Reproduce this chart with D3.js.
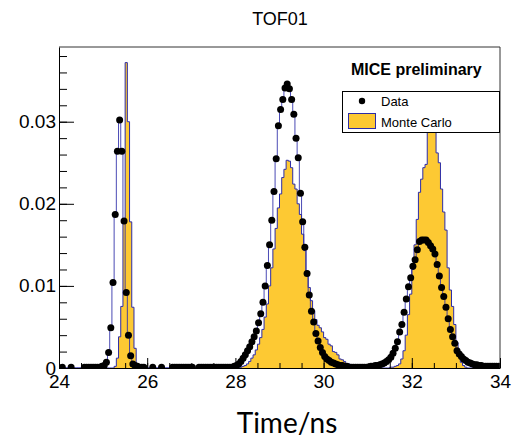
<!DOCTYPE html>
<html>
<head>
<meta charset="utf-8">
<script src="https://cdn.jsdelivr.net/npm/d3@7"></script>
<style>
  html, body { margin: 0; padding: 0; background: #fff; }
  svg { display: block; }
</style>
</head>
<body>
<svg id="chart" width="514" height="441"></svg>
<script>
// Histogram binning: 200 bins of 0.05 ns from 24 ns to 34 ns
const binStart = 24;
const binWidth = 0.05;

// Normalised data entries per bin (null = empty bin, no marker drawn)
const dataValues = [
  null,0.0001,null,null,null,0.0001,null,null,null,null,
  null,0.0001,0.0001,0.0001,0.0001,0.0001,0.0001,0.0001,0.0001,0.0002,
  0.0003,0.0007,0.0019,0.0049,0.0104,0.0187,0.0264,0.0302,0.0264,0.0179,
  0.0092,0.0040,0.0015,0.0005,0.0003,0.0002,0.0001,0.0001,0.0001,null,
  null,null,0.0001,null,null,null,0.0001,null,null,null,
  null,0.0001,0.0001,0.0001,0.0001,0.0001,0.0001,0.0001,0.0001,0.0001,
  0.0001,null,null,0.0001,0.0001,0.0001,0.0001,0.0001,0.0001,0.0001,
  0.0001,0.0001,0.0001,0.0001,0.0001,0.0001,0.0001,0.0001,0.0001,0.0002,
  0.0003,0.0005,0.0008,0.0012,0.0016,0.0021,0.0026,0.0032,0.0038,0.0045,
  0.0055,0.0066,0.0080,0.0100,0.0125,0.0150,0.0180,0.0215,0.0255,0.0295,
  0.0315,0.0327,0.0341,0.0346,0.0340,0.0327,0.0309,0.0280,0.0256,0.0213,
  0.0178,0.0147,0.0115,0.0089,0.0069,0.0056,0.0042,0.0033,0.0025,0.0019,
  0.0014,0.0011,0.0009,0.0007,0.0006,0.0005,0.0004,0.0003,0.0003,0.0002,
  0.0002,0.0001,0.0001,0.0001,0.0001,0.0001,0.0001,0.0001,0.0001,0.0001,
  0.0001,0.0002,0.0002,0.0003,0.0003,0.0004,0.0005,0.0006,0.0008,0.0010,
  0.0013,0.0018,0.0024,0.0032,0.0044,0.0053,0.0068,0.0084,0.0099,0.0110,
  0.0124,0.0132,0.0144,0.0154,0.0156,0.0156,0.0156,0.0153,0.0149,0.0145,
  0.0139,0.0126,0.0112,0.0098,0.0087,0.0074,0.0060,0.0047,0.0038,0.0030,
  0.0021,0.0017,0.0014,0.0011,0.0009,0.0007,0.0006,0.0005,0.0004,0.0004,
  0.0003,0.0003,0.0002,0.0002,0.0002,0.0002,0.0002,0.0002,0.0002,0.0002
];

// Normalised Monte Carlo prediction per bin
const mcValues = [
  0,0,0,0,0,0,0,0,0,0,
  0,0,0,0,0,0,0,0,0,0,
  0,0,0,0,0,0.0002,0.0012,0.0038,0.0075,0.0177,
  0.0372,0.0300,0.0178,0.0074,0.0024,0.0004,0,0,0,0,
  0,0,0,0,0,0,0,0,0,0,
  0,0,0,0,0,0,0,0,0,0,
  0,0,0,0,0,0,0,0,0,0,
  0,0,0,0,0,0,0,0,0,0,
  0,0,0.0001,0.0002,0.0003,0.0005,0.0008,0.0012,0.0016,0.0022,
  0.0029,0.0037,0.0047,0.0062,0.0078,0.0100,0.0122,0.0145,0.0170,0.0195,
  0.0212,0.0232,0.0242,0.0253,0.0252,0.0244,0.0224,0.0218,0.0200,0.0187,
  0.0163,0.0143,0.0118,0.0098,0.0082,0.0070,0.0059,0.0052,0.0049,0.0044,
  0.0037,0.0035,0.0029,0.0027,0.0020,0.0019,0.0016,0.0011,0.0010,0.0008,
  0.0005,0.0005,0.0003,0.0002,0.0001,0,0,0,0,0,
  0,0,0,0,0,0,0,0,0,0,
  0.0001,0.0001,0.0002,0.0003,0.0005,0.0011,0.0021,0.0040,0.0065,0.0090,
  0.0120,0.0150,0.0181,0.0214,0.0230,0.0244,0.0248,0.0300,0.0312,0.0305,
  0.0292,0.0262,0.0250,0.0218,0.0190,0.0168,0.0122,0.0095,0.0075,0.0053,
  0.0031,0.0017,0.0007,0.0003,0.0001,0,0,0,0,0,
  0,0,0,0,0,0,0,0,0,0
];

// Axis ticks and labels
const xMajorTicks = [24, 26, 28, 30, 32, 34];
const xTickLabels = ["24", "26", "28", "30", "32", "34"];
const yMajorTicks = [0, 0.01, 0.02, 0.03];
const yTickLabels = ["0", "0.01", "0.02", "0.03"];
const legendLabels = ["Data", "Monte Carlo"];

const chartTitle = "TOF01";
const legendHeader = "MICE preliminary";
const xTitle = "Time/ns";

const fillYellow = "#fdc933";
const lineBlue = "#2c2ca8";
const sansFont = "'Liberation Sans', Arial, Helvetica, sans-serif";

const svg = d3.select("#chart");
svg.append("rect").attr("width", 514).attr("height", 441).attr("fill", "#fff");

const x = d3.scaleLinear().domain([24, 34]).range([59, 500]);
const y = d3.scaleLinear().domain([0, 0.0391]).range([368, 47]);

svg.append("defs").append("clipPath").attr("id", "plotArea")
  .append("rect")
  .attr("x", x(24)).attr("y", y(0.0391))
  .attr("width", x(34) - x(24)).attr("height", y(0) - y(0.0391));

const plot = svg.append("g").attr("clip-path", "url(#plotArea)");

// Turn per-bin values into step points (left edge of each bin, plus the last right edge)
function stepPoints(values) {
  const pts = values.map((v, i) => [binStart + i * binWidth, v || 0]);
  pts.push([binStart + values.length * binWidth, values[values.length - 1] || 0]);
  return pts;
}

const stepArea = d3.area()
  .x(d => x(d[0])).y0(y(0)).y1(d => y(d[1]))
  .curve(d3.curveStepAfter);
const stepLine = d3.line()
  .x(d => x(d[0])).y(d => y(d[1]))
  .curve(d3.curveStepAfter);

// Monte Carlo: filled histogram with outline
plot.append("path")
  .attr("d", stepArea(stepPoints(mcValues)))
  .attr("fill", fillYellow);
plot.append("path")
  .attr("d", stepLine(stepPoints(mcValues)))
  .attr("fill", "none").attr("stroke", lineBlue).attr("stroke-width", 1);

// Data: histogram outline plus markers at bin centres
plot.append("path")
  .attr("d", stepLine(stepPoints(dataValues)))
  .attr("fill", "none").attr("stroke", lineBlue).attr("stroke-width", 1)
  .attr("stroke-opacity", 0.85);

const dataPoints = dataValues
  .map((v, i) => ({ t: binStart + (i + 0.5) * binWidth, v }))
  .filter(d => d.v !== null);

plot.selectAll("circle.data")
  .data(dataPoints)
  .enter().append("circle")
  .attr("class", "data")
  .attr("cx", d => x(d.t))
  .attr("cy", d => y(d.v))
  .attr("r", 3.5)
  .attr("fill", "#000");

// Frame (top and right edges)
svg.append("path")
  .attr("d", `M${x(24)},${y(0.0391)}H${x(34)}V${y(0)}`)
  .attr("fill", "none").attr("stroke", "#333").attr("stroke-width", 1);

// X axis: minor ticks every 0.5 ns, labelled majors every 2 ns
const xMinorTicks = d3.range(0, 21).map(i => 24 + i * 0.5);
svg.append("g")
  .attr("transform", `translate(0,${y(0)})`)
  .call(d3.axisBottom(x).tickValues(xMinorTicks).tickSize(-5).tickSizeOuter(0).tickFormat(""))
  .call(g => g.select(".domain").remove());
const xAxis = svg.append("g")
  .attr("transform", `translate(0,${y(0)})`)
  .call(d3.axisBottom(x).tickValues(xMajorTicks).tickSize(-10).tickSizeOuter(0)
    .tickPadding(7).tickFormat((d, i) => xTickLabels[i]));
xAxis.selectAll("text").attr("font-size", 19).attr("font-family", sansFont).attr("fill", "#000");
xAxis.select(".domain").attr("stroke", "#000");

// Y axis: minor ticks every 0.002, labelled majors every 0.01
const yMinorTicks = d3.range(0, 20).map(i => i * 0.002);
svg.append("g")
  .attr("transform", `translate(${x(24)},0)`)
  .call(d3.axisLeft(y).tickValues(yMinorTicks).tickSize(-8).tickSizeOuter(0).tickFormat(""))
  .call(g => g.select(".domain").remove());
const yAxis = svg.append("g")
  .attr("transform", `translate(${x(24)},0)`)
  .call(d3.axisLeft(y).tickValues(yMajorTicks).tickSize(-15).tickSizeOuter(0)
    .tickPadding(3).tickFormat((d, i) => yTickLabels[i]));
yAxis.selectAll("text").attr("font-size", 19).attr("font-family", sansFont).attr("fill", "#000");
yAxis.select(".domain").attr("stroke", "#000");

// Title
svg.append("text")
  .attr("x", 280).attr("y", 25)
  .attr("text-anchor", "middle")
  .attr("font-family", sansFont).attr("font-size", 18)
  .text(chartTitle);

// Header above the legend
svg.append("text")
  .attr("x", 351).attr("y", 75)
  .attr("font-family", sansFont).attr("font-size", 16).attr("font-weight", "bold")
  .text(legendHeader);

// Legend
const legend = svg.append("g");
legend.append("rect")
  .attr("x", 342.5).attr("y", 91.5).attr("width", 157).attr("height", 41)
  .attr("fill", "#fff").attr("stroke", "#000").attr("stroke-width", 1);
legend.append("circle")
  .attr("cx", 362).attr("cy", 101).attr("r", 3.2).attr("fill", "#000");
legend.append("rect")
  .attr("x", 348.5).attr("y", 113.5).attr("width", 27).attr("height", 15)
  .attr("fill", fillYellow).attr("stroke", lineBlue).attr("stroke-width", 1);
legend.selectAll("text.entry")
  .data(legendLabels)
  .enter().append("text")
  .attr("class", "entry")
  .attr("x", 381)
  .attr("y", (d, i) => 105.5 + i * 21)
  .attr("font-family", sansFont).attr("font-size", 13)
  .text(d => d);

// X axis title
svg.append("text")
  .attr("x", 287).attr("y", 433)
  .attr("text-anchor", "middle")
  .attr("font-family", "Lato, 'Open Sans', sans-serif").attr("font-size", 28)
  .text(xTitle);
</script>
</body>
</html>
